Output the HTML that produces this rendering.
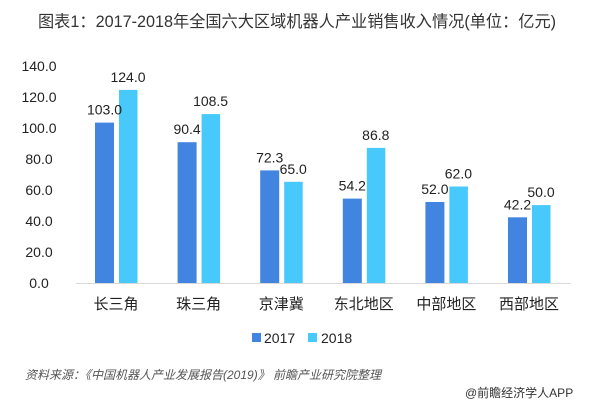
<!DOCTYPE html>
<html><head><meta charset="utf-8"><style>
body{margin:0;background:#fff;}
svg{display:block;font-family:"Liberation Sans","Noto Sans CJK SC",sans-serif;}
</style></head><body>
<svg width="600" height="400" viewBox="0 0 600 400">
<text x="38" y="27" font-size="16.2" fill="#333">图表1：2017-2018年全国六大区域机器人产业销售收入情况(单位：亿元)</text>
<g font-size="14" fill="#222" text-anchor="middle">
<text x="39" y="288">0.0</text>
<text x="39" y="257">20.0</text>
<text x="39" y="226">40.0</text>
<text x="39" y="195">60.0</text>
<text x="39" y="164">80.0</text>
<text x="39" y="133">100.0</text>
<text x="39" y="102">120.0</text>
<text x="39" y="71">140.0</text>
</g>
<line x1="76" y1="283.5" x2="571" y2="283.5" stroke="#d9d9d9" stroke-width="1"/>
<g fill="#4285e0">
<rect x="95" y="122.6" width="19" height="160.4"/>
<rect x="177.6" y="142.2" width="19" height="140.8"/>
<rect x="260.2" y="170.4" width="19" height="112.6"/>
<rect x="342.8" y="198.6" width="19" height="84.4"/>
<rect x="425.4" y="202" width="19" height="81"/>
<rect x="508" y="217.3" width="19" height="65.7"/>
</g>
<g fill="#48c9fb">
<rect x="119" y="89.9" width="18.5" height="193.1"/>
<rect x="201.6" y="114.1" width="18.5" height="168.9"/>
<rect x="284.2" y="181.8" width="18.5" height="101.2"/>
<rect x="366.8" y="147.9" width="18.5" height="135.1"/>
<rect x="449.4" y="186.5" width="18.5" height="96.5"/>
<rect x="532" y="205.1" width="18.5" height="77.9"/>
</g>
<g font-size="14" fill="#222" text-anchor="middle">
<text x="104.5" y="114.6">103.0</text>
<text x="128" y="81.9">124.0</text>
<text x="187.1" y="134.2">90.4</text>
<text x="210.6" y="106.1">108.5</text>
<text x="269.7" y="162.4">72.3</text>
<text x="293.2" y="173.8">65.0</text>
<text x="352.3" y="190.6">54.2</text>
<text x="375.8" y="139.9">86.8</text>
<text x="434.9" y="194">52.0</text>
<text x="458.4" y="178.5">62.0</text>
<text x="517.5" y="209.3">42.2</text>
<text x="541" y="197.1">50.0</text>
</g>
<g font-size="15" fill="#222" text-anchor="middle">
<text x="116" y="309">长三角</text>
<text x="198.6" y="309">珠三角</text>
<text x="281.2" y="309">京津冀</text>
<text x="363.8" y="309">东北地区</text>
<text x="446.4" y="309">中部地区</text>
<text x="529" y="309">西部地区</text>
</g>
<rect x="252" y="333" width="9" height="9" fill="#4285e0"/>
<text x="264" y="343" font-size="14" fill="#222">2017</text>
<rect x="308" y="333" width="9" height="9" fill="#48c9fb"/>
<text x="321" y="343" font-size="14" fill="#222">2018</text>
<text x="25" y="379" font-size="12" fill="#555" font-style="italic">资料来源：《中国机器人产业发展报告(2019)》 前瞻产业研究院整理</text>
<text x="465" y="397" font-size="12" fill="#333">@前瞻经济学人APP</text>
</svg>
</body></html>
